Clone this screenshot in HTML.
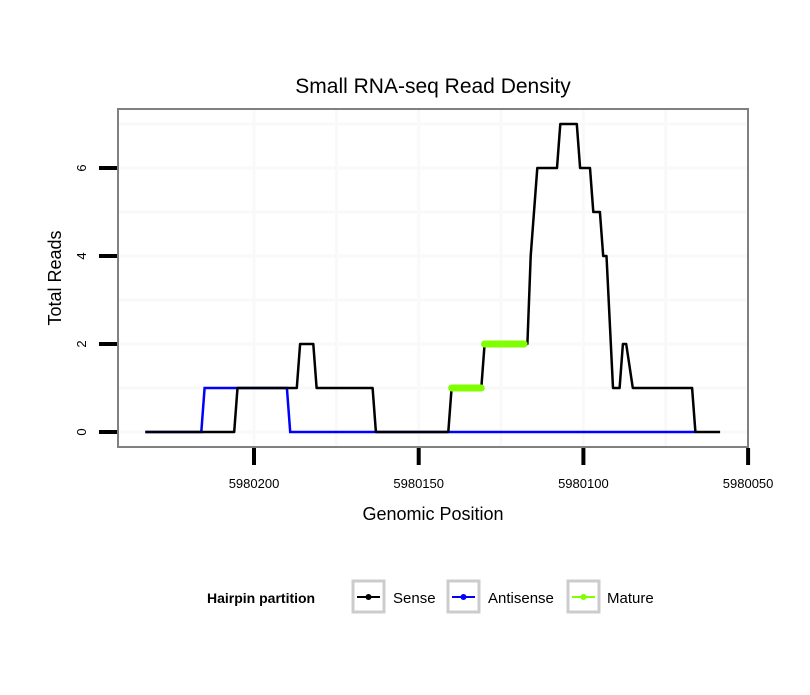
<!DOCTYPE html>
<html><head><meta charset="utf-8"><style>
body{margin:0;background:#fff;}
svg text{font-family:"Liberation Sans",sans-serif;}
</style></head><body>
<svg width="810" height="690" xmlns="http://www.w3.org/2000/svg">
<rect width="810" height="690" fill="#fff"/>
<text x="433" y="93" font-size="21" text-anchor="middle">Small RNA-seq Read Density</text>
<g id="grid"></g>
<g id="series"></g>
<rect x="118" y="109" width="630" height="338" fill="none" stroke="#808080" stroke-width="2"/>
<g id="axes"></g>
<text x="433" y="520" font-size="18" text-anchor="middle">Genomic Position</text>
<text transform="translate(61,278) rotate(-90)" font-size="18" text-anchor="middle">Total Reads</text>
<g>
<text x="207" y="603" font-size="14" font-weight="bold">Hairpin partition</text>
<g>
<rect x="353" y="581" width="31" height="31" fill="#fff" stroke="#ccc" stroke-width="3"/>
<line x1="357" y1="597" x2="380" y2="597" stroke="#000" stroke-width="2"/><circle cx="368.5" cy="597" r="3" fill="#000"/>
<text x="393" y="603" font-size="15">Sense</text></g>
<g>
<rect x="448" y="581" width="31" height="31" fill="#fff" stroke="#ccc" stroke-width="3"/>
<line x1="452" y1="597" x2="475" y2="597" stroke="#00f" stroke-width="2"/><circle cx="463.5" cy="597" r="3" fill="#00f"/>
<text x="488" y="603" font-size="15">Antisense</text></g>
<g>
<rect x="568" y="581" width="31" height="31" fill="#fff" stroke="#ccc" stroke-width="3"/>
<line x1="572" y1="597" x2="595" y2="597" stroke="#7fff00" stroke-width="2"/><circle cx="583.5" cy="597" r="3" fill="#7fff00"/>
<text x="607" y="603" font-size="15">Mature</text></g>
</g>
</svg>
<script>
const senseX=[5980233,5980206,5980205,5980187,5980186,5980182,5980181,5980164,5980163,5980141,5980140,5980131,5980130,5980117,5980116,5980114,5980108,5980107,5980102,5980101,5980098,5980097,5980095,5980094,5980093,5980091,5980089,5980088,5980087,5980085,5980067,5980066,5980058.5];
const senseY=[0,0,1,1,2,2,1,1,0,0,1,1,2,2,4,6,6,7,7,6,6,5,5,4,4,1,1,2,2,1,1,0,0];
const antiX=[5980233,5980216,5980215,5980190,5980189,5980066];
const antiY=[0,0,1,1,0,0];
const matureSegStart=[5980140,5980130];
const matureSegEnd=[5980131,5980118];
const matureVal=[1,2];
const xTicks=[5980200,5980150,5980100,5980050];
const yTicks=[0,2,4,6];
const xMinor=[5980175,5980125,5980075];
const yMinor=[1,3,5,7];
function sx(p){return 254+(5980200-p)*3.294;}
function sy(v){return 432-v*44;}
const NS="http://www.w3.org/2000/svg";
function mk(t,a,parent){const e=document.createElementNS(NS,t);for(const k in a)e.setAttribute(k,a[k]);parent.appendChild(e);return e;}
const grid=document.getElementById('grid'),ser=document.getElementById('series'),axes=document.getElementById('axes');
xTicks.concat(xMinor).forEach(p=>{const x=sx(p);if(x>118&&x<748){const l=mk('line',{x1:x,x2:x,y1:110,y2:446,stroke:'#f9f9f9','stroke-width':3},grid);

}});
yTicks.concat(yMinor).forEach(v=>{const y=sy(v);if(y>110){const l=mk('line',{x1:119,x2:747,y1:y,y2:y,stroke:'#f9f9f9','stroke-width':3},grid);

}});
function path(xs,ys){return xs.map((p,i)=>(i?'L':'M')+sx(p).toFixed(1)+','+sy(ys[i]).toFixed(1)).join(' ');}
const a=mk('path',{d:path(antiX,antiY),fill:'none',stroke:'#00f','stroke-width':2.5},ser);


const s=mk('path',{d:path(senseX,senseY),fill:'none',stroke:'#000','stroke-width':2.5,'stroke-linejoin':'round'},ser);


matureVal.forEach((v,i)=>{const m=mk('line',{x1:sx(matureSegStart[i]),x2:sx(matureSegEnd[i]),y1:sy(v),y2:sy(v),stroke:'#7fff00','stroke-width':7,'stroke-linecap':'round'},ser);

});
xTicks.forEach(p=>{const x=sx(p);
const t=mk('line',{x1:x,x2:x,y1:448,y2:465,stroke:'#000','stroke-width':4},axes);


const tx=mk('text',{x:x,y:488,'font-size':13,'text-anchor':'middle'},axes);tx.textContent=p;

});
yTicks.forEach(v=>{const y=sy(v);
const t=mk('line',{x1:99,x2:117,y1:y,y2:y,stroke:'#000','stroke-width':4},axes);


const tx=mk('text',{transform:`translate(86,${y}) rotate(-90)`,'font-size':13,'text-anchor':'middle'},axes);tx.textContent=v;

});
</script>
</body></html>
